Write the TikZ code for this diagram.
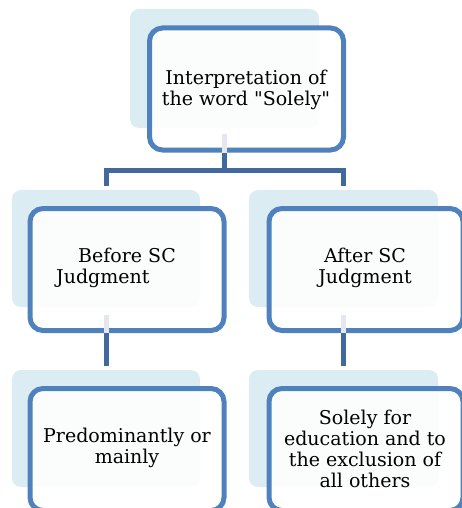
\documentclass[tikz,border=0pt]{standalone}
\usepackage{fontspec}
\setmainfont{DejaVu Serif}
\newfontfamily\plainquote{DejaVu Serif}
\definecolor{shadowc}{HTML}{DBEDF3}
\definecolor{borderc}{HTML}{4F81BD}
\definecolor{connc}{HTML}{41699D}
\definecolor{faintc}{HTML}{E4E6F0}
\tikzset{
  shade box/.style={fill=shadowc, draw=none, rounded corners=9pt, inner sep=0pt},
  main box/.style={draw=borderc, line width=5pt, fill=white, fill opacity=0.9, rounded corners=13pt, inner sep=0pt, minimum width=194pt, minimum height=122pt},
  conn/.style={draw=connc, line width=5pt},
  faint/.style={draw=faintc, line width=5pt},
  label/.style={font=\fontsize{19}{21}\selectfont, text=black, inner sep=0pt}
}
\begin{document}
\begin{tikzpicture}[x=1pt,y=-1pt]
\useasboundingbox (0,0) rectangle (462,508);
% shadows
\node[shade box, minimum width=189pt, minimum height=119pt] (topsh) at (224.5,68.5) {};
\node[shade box, minimum width=188pt, minimum height=117pt] (l1sh) at (106,248.5) {};
\node[shade box, minimum width=189pt, minimum height=117pt] (r1sh) at (343.5,248.5) {};
\node[shade box, minimum width=188pt, minimum height=117pt] (l2sh) at (106,428.5) {};
\node[shade box, minimum width=189pt, minimum height=117pt] (r2sh) at (343.5,428.5) {};
% connectors
\coordinate (jt) at (224.5,170);
\draw[conn] (topsh.center |- 0,150) -- (jt);
\draw[conn] (l1sh.center |- 0,186) -- (l1sh.center |- jt) -- (r1sh.center |- jt) -- (r1sh.center |- 0,186);
\draw[conn] (l1sh.center |- 0,330) -- (l1sh.center |- 0,366);
\draw[conn] (r1sh.center |- 0,330) -- (r1sh.center |- 0,366);
% main boxes
\node[main box, minimum width=194pt] (top) at (246.5,89) {};
\node[main box] (l1) at (127,269.5) {};
\node[main box] (r1) at (366,269.5) {};
\node[main box] (l2) at (127,449.5) {};
\node[main box] (r2) at (366,449.5) {};
% faint tails
\draw[faint] (topsh.center |- 0,134) -- (topsh.center |- top.south);
\draw[faint] (l1sh.center |- 0,315) -- (l1sh.center |- l1.south);
\draw[faint] (r1sh.center |- 0,315) -- (r1sh.center |- r1.south);
% texts
\node[label, align=center] (ttop) at (246,90) {Interpretation of\\the word {\plainquote"}Solely{\plainquote"}};
\node[label, align=left] (tl1) at (116,268) {\hspace*{22pt}Before SC\\Judgment};
\node[label, align=center] (tr1) at (365,268) {After SC\\Judgment};
\node[label, align=center] (tl2) at (127,448) {Predominantly or\\mainly};
\node[label, align=center] (tr2) at (365,449) {Solely for\\education and to\\the exclusion of\\all others};
\end{tikzpicture}
\end{document}
